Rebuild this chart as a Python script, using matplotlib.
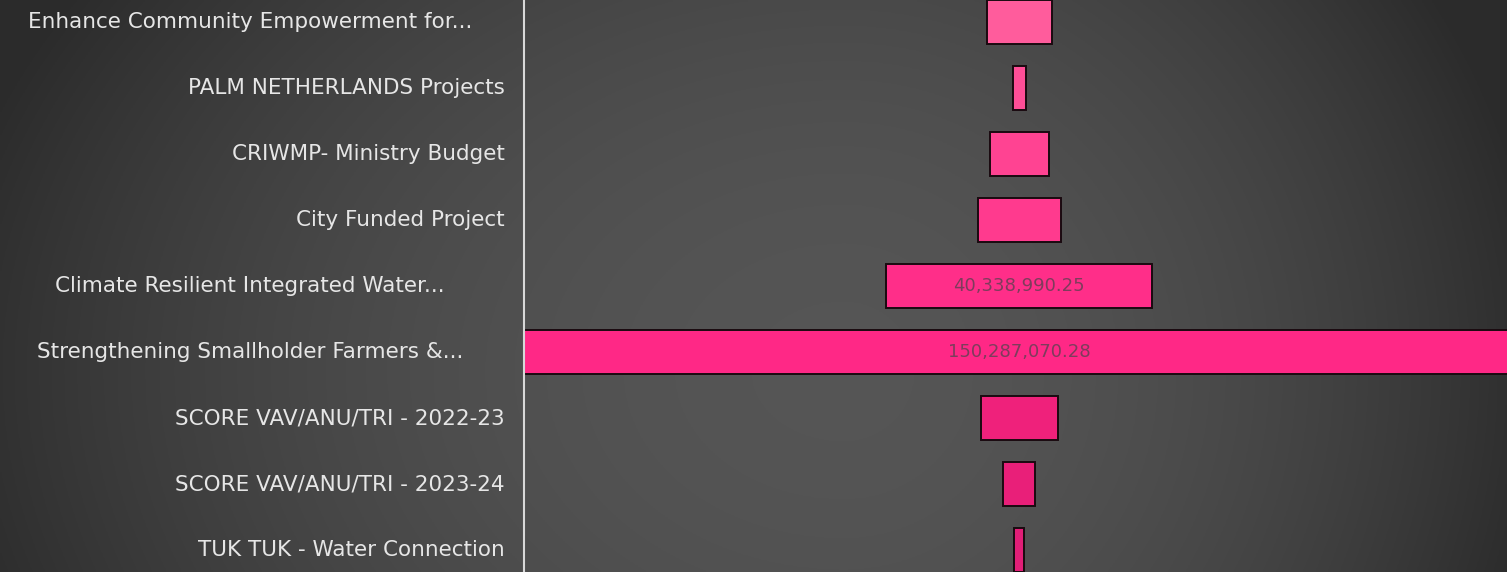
import numpy as np
import matplotlib
matplotlib.use('Agg')
import matplotlib.pyplot as plt

# 项目名称与金额
projects = ['Enhance Community Empowerment for...',
            'PALM NETHERLANDS Projects',
            'CRIWMP- Ministry Budget',
            'City Funded Project',
            'Climate Resilient Integrated Water...',
            'Strengthening Smallholder Farmers &...',
            'SCORE VAV/ANU/TRI - 2022-23',
            'SCORE VAV/ANU/TRI - 2023-24',
            'TUK TUK - Water Connection']
amounts = [9850000, 1940000, 8920000, 12600000, 40338990.25,
           150287070.28, 11700000, 4900000, 1600000]
shown = [False, False, False, False, True, True, False, False, False]

bar_cols = ['#ff5c9c', '#ff4e97', '#ff4392', '#ff3a8e', '#ff2e89',
            '#ff2886', '#ef217b', '#e91f79', '#e21e77']

W, H = 1507, 572
fig = plt.figure(figsize=(W/100, H/100), dpi=100)

# 背景渐变
bg = fig.add_axes([0, 0, 1, 1])
xx, yy = np.meshgrid(np.linspace(0, 1, 600), np.linspace(0, 1, 240))
cx = 0.56
rx = np.where(xx < cx, 0.6, 0.46)
d2 = ((xx-cx)/rx)**2 + ((yy-0.65)/1.2)**2
v = np.clip(0.335 - 0.16*d2, 0.17, 0.34)
bg.imshow(np.dstack([v, v, v]), extent=[0, 1, 0, 1], aspect='auto')
bg.axis('off')

x0 = 524/W
ax = fig.add_axes([x0, 0, 1-x0, 1])
ax.patch.set_alpha(0)
n = len(amounts)
y = np.arange(n)
a = np.array(amounts)
ax.barh(y, a, left=-a/2, height=0.667, color=bar_cols,
        edgecolor='#1a0a10', linewidth=1.4)
mx = a.max()
ax.set_xlim(-mx/2, mx/2*0.985)
ax.set_ylim(n-1+1/3, -1/3)
ax.axis('off')

for i in range(n):
    if shown[i]:
        ax.text(0, y[i], f'{amounts[i]:,.2f}', ha='center', va='center',
                fontsize=13, color='#7e3c5c')

# 左侧标签
for i in range(n):
    yf = 1 - (22 + 66*i)/H
    if projects[i].endswith('...'):
        fig.text(250/W, yf, projects[i], ha='center', va='center',
                 fontsize=15.5, color='#e6e6e6')
    else:
        fig.text(505/W, yf, projects[i], ha='right', va='center',
                 fontsize=15.5, color='#e6e6e6')

fig.add_artist(plt.Line2D([x0, x0], [0, 1], color='#d8d8d8', lw=1.5))

fig.savefig('out.png', dpi=100)
